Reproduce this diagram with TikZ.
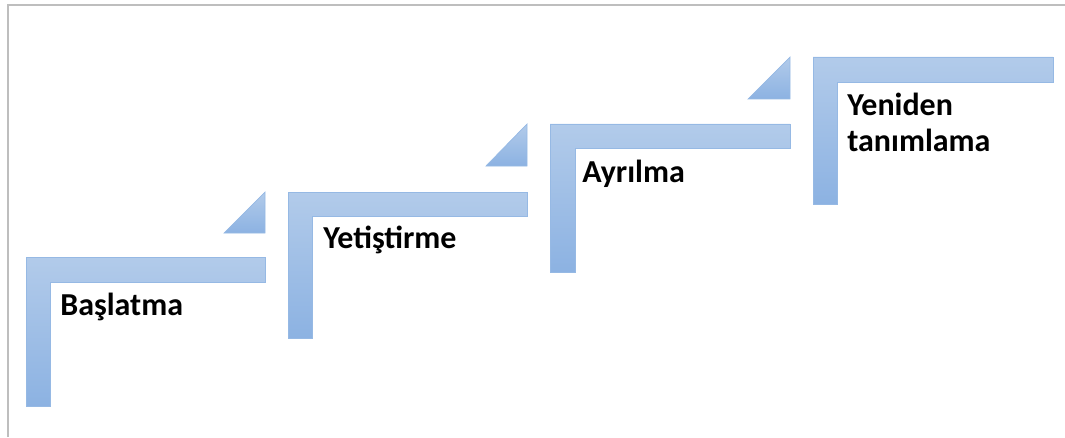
\documentclass[tikz,border=0pt]{standalone}
\usepackage{fontspec}
\setmainfont{Carlito}
\usetikzlibrary{positioning}
\definecolor{stairlight}{RGB}{178,203,234}
\definecolor{stairdark}{RGB}{140,178,226}
\definecolor{stairedge}{RGB}{150,185,228}
\definecolor{framegray}{RGB}{190,190,190}
\tikzstyle{stair} = [draw=stairedge, line width=0.4pt, top color=stairlight, bottom color=stairdark]
\tikzstyle{corner} = [draw=stairedge, line width=0.4pt, top color=stairlight, bottom color=stairdark]
\tikzstyle{label} = [anchor=base west, inner sep=0pt, align=left, font=\fontsize{18.2}{21}\selectfont\bfseries]

\begin{document}
\begin{tikzpicture}

\useasboundingbox (0,0) rectangle (21.3,8.74);

% Frame
\draw[framegray, line width=1.2pt] (0.16,0) -- (0.16,8.64) -- (21.3,8.64);

% Step 1
\draw[stair] (0.52,0.62) -- (0.52,3.60) -- (5.30,3.60) -- (5.30,3.10) -- (1.00,3.10) -- (1.00,0.62) -- cycle;
\draw[corner] (4.48,4.08) -- (5.30,4.08) -- (5.30,4.90) -- cycle;
\node[label] (baslatma) at (1.20,2.44) {Başlatma};

% Step 2
\draw[stair] (5.76,1.98) -- (5.76,4.90) -- (10.54,4.90) -- (10.54,4.42) -- (6.24,4.42) -- (6.24,1.98) -- cycle;
\draw[corner] (9.72,5.42) -- (10.54,5.42) -- (10.54,6.26) -- cycle;
\node[label] (yetistirme) at (6.46,3.78) {Yetiştirme};

% Step 3
\draw[stair] (11.00,3.30) -- (11.00,6.26) -- (15.80,6.26) -- (15.80,5.78) -- (11.50,5.78) -- (11.50,3.30) -- cycle;
\draw[corner] (14.96,6.76) -- (15.80,6.76) -- (15.80,7.60) -- cycle;
\node[label] (ayrilma) at (11.64,5.08) {Ayrılma};

% Step 4
\draw[stair] (16.26,4.66) -- (16.26,7.60) -- (21.06,7.60) -- (21.06,7.10) -- (16.74,7.10) -- (16.74,4.66) -- cycle;
\node[label] (yeniden) at (16.94,5.70) {Yeniden\\tanımlama};

\end{tikzpicture}
\end{document}
